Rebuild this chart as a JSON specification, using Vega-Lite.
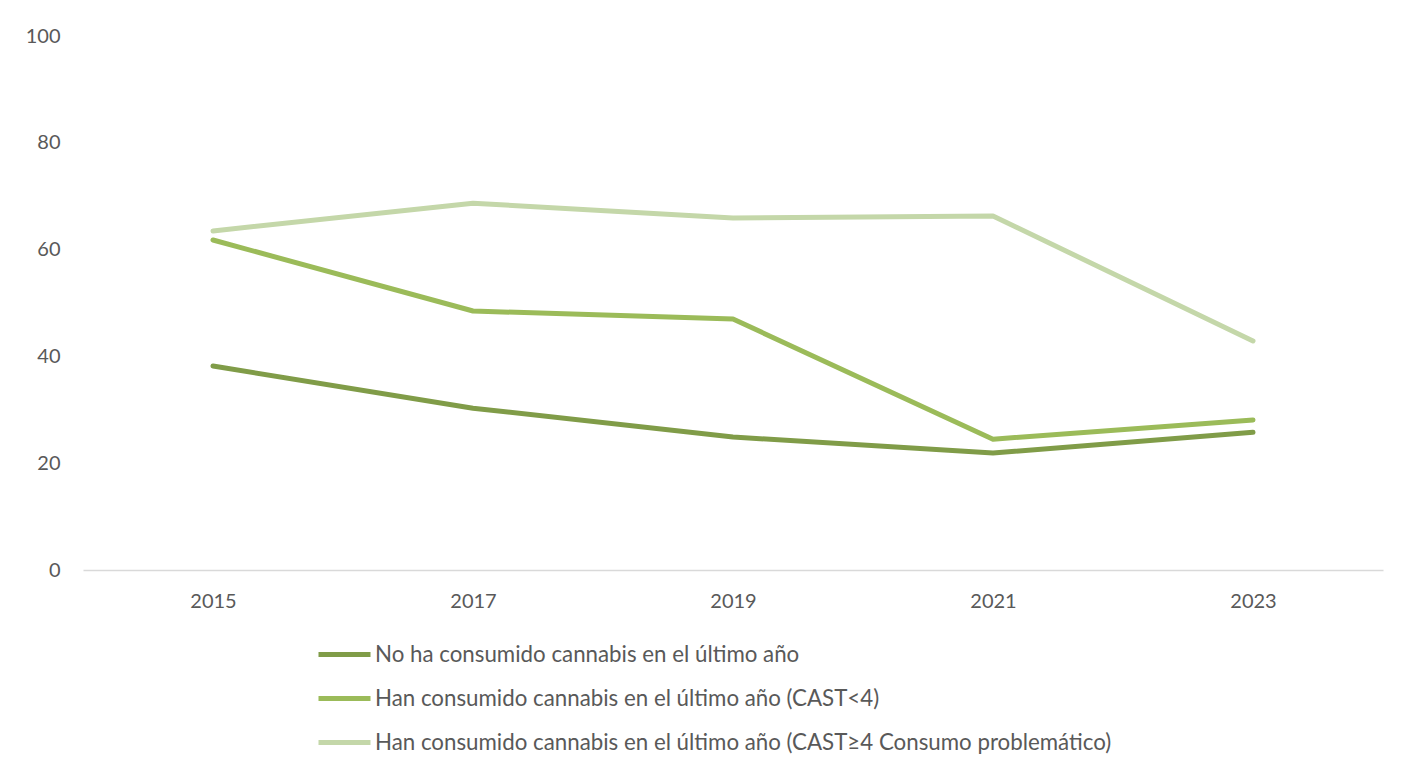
{
  "$schema": "https://vega.github.io/schema/vega-lite/v6.json",
  "width": 1300,
  "height": 534,
  "autosize": {"type": "none"},
  "padding": {"left": 83, "top": 36, "right": 35, "bottom": 201},
  "background": "white",
  "config": {"view": {"stroke": null}, "font": "Lato"},
  "data": {
    "values": [
      {"year": "2015", "serie": "No ha consumido cannabis en el último año", "value": 38.2},
      {"year": "2017", "serie": "No ha consumido cannabis en el último año", "value": 30.3},
      {"year": "2019", "serie": "No ha consumido cannabis en el último año", "value": 24.9},
      {"year": "2021", "serie": "No ha consumido cannabis en el último año", "value": 21.9},
      {"year": "2023", "serie": "No ha consumido cannabis en el último año", "value": 25.8},
      {"year": "2015", "serie": "Han consumido cannabis en el último año (CAST<4)", "value": 61.8},
      {"year": "2017", "serie": "Han consumido cannabis en el último año (CAST<4)", "value": 48.5},
      {"year": "2019", "serie": "Han consumido cannabis en el último año (CAST<4)", "value": 47.0},
      {"year": "2021", "serie": "Han consumido cannabis en el último año (CAST<4)", "value": 24.5},
      {"year": "2023", "serie": "Han consumido cannabis en el último año (CAST<4)", "value": 28.1},
      {"year": "2015", "serie": "Han consumido cannabis en el último año (CAST≥4 Consumo problemático)", "value": 63.5},
      {"year": "2017", "serie": "Han consumido cannabis en el último año (CAST≥4 Consumo problemático)", "value": 68.7},
      {"year": "2019", "serie": "Han consumido cannabis en el último año (CAST≥4 Consumo problemático)", "value": 65.9},
      {"year": "2021", "serie": "Han consumido cannabis en el último año (CAST≥4 Consumo problemático)", "value": 66.3},
      {"year": "2023", "serie": "Han consumido cannabis en el último año (CAST≥4 Consumo problemático)", "value": 42.9}
    ]
  },
  "mark": {"type": "line", "strokeWidth": 5, "strokeCap": "round", "strokeJoin": "round"},
  "encoding": {
    "x": {
      "field": "year", "type": "ordinal",
      "scale": {"type": "point", "padding": 0.5},
      "axis": {"title": null, "labelAngle": 0, "ticks": false, "domainColor": "#d9d9d9", "domainWidth": 1.5,
               "labelFontSize": 20, "labelColor": "#595959", "labelPadding": 21}
    },
    "y": {
      "field": "value", "type": "quantitative",
      "scale": {"domain": [0, 100], "nice": false},
      "axis": {"title": null, "values": [0, 20, 40, 60, 80, 100], "grid": false, "domain": false, "ticks": false,
               "labelFontSize": 20, "labelColor": "#595959", "labelPadding": 23}
    },
    "color": {
      "field": "serie", "type": "nominal",
      "scale": {
        "domain": ["No ha consumido cannabis en el último año", "Han consumido cannabis en el último año (CAST<4)", "Han consumido cannabis en el último año (CAST≥4 Consumo problemático)"],
        "range": ["#809C48", "#9BBB59", "#C4D7A9"]
      },
      "legend": {
        "title": null, "orient": "none", "legendX": 233, "legendY": 590, "direction": "vertical",
        "symbolType": "stroke", "symbolSize": 2704, "symbolStrokeWidth": 5,
        "labelFontSize": 22.3, "labelColor": "#595959", "labelOffset": 2, "rowPadding": 4, "labelLimit": 0
      }
    }
  }
}
